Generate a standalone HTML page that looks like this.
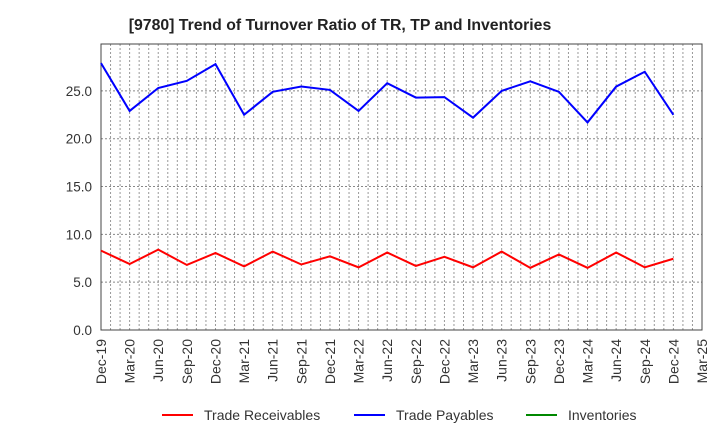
<!DOCTYPE html>
<html><head><meta charset="utf-8"><style>
body{margin:0;background:#fff;font-family:"Liberation Sans",Arial,sans-serif}
</style></head><body>
<svg id="chart" width="720" height="440" xmlns="http://www.w3.org/2000/svg">
<text x="340" y="30" text-anchor="middle" font-size="15.8" font-weight="bold" fill="#222">[9780]  Trend of Turnover Ratio of TR, TP and Inventories</text>
<g id="grid"></g><g id="axes"></g><g id="series"></g>
<g>
<line x1="162" y1="415" x2="193" y2="415" stroke="#f00" stroke-width="2"/>
<text x="204" y="420" font-size="14" fill="#333">Trade Receivables</text>
<line x1="354" y1="415" x2="385" y2="415" stroke="#00f" stroke-width="2"/>
<text x="396" y="420" font-size="14" fill="#333">Trade Payables</text>
<line x1="526" y1="415" x2="557" y2="415" stroke="#080" stroke-width="2"/>
<text x="568" y="420" font-size="14" fill="#333">Inventories</text>
</g>
</svg>
<script>
const categories=["Dec-19","Mar-20","Jun-20","Sep-20","Dec-20","Mar-21","Jun-21","Sep-21","Dec-21","Mar-22","Jun-22","Sep-22","Dec-22","Mar-23","Jun-23","Sep-23","Dec-23","Mar-24","Jun-24","Sep-24","Dec-24","Mar-25"];
const tradeReceivables=[8.3,6.9,8.4,6.8,8.05,6.65,8.2,6.85,7.7,6.55,8.1,6.7,7.65,6.55,8.2,6.5,7.9,6.5,8.1,6.55,7.45];
const tradePayables=[27.9,22.9,25.3,26.05,27.8,22.5,24.9,25.45,25.1,22.9,25.8,24.3,24.35,22.2,25.0,26.0,24.9,21.7,25.45,27.0,22.5];
const inventories=[];
const yTicks=[0,5,10,15,20,25];
const yTickLabels=["0.0","5.0","10.0","15.0","20.0","25.0"];
const NS="http://www.w3.org/2000/svg";
const L=101,R=702,T=44,B=330,YMAX=29.9;
const x=i=>L+(R-L)*i/(categories.length-1);
const y=v=>B-(B-T)*v/YMAX;
function mk(t,a,p){const e=document.createElementNS(NS,t);for(const k in a)e.setAttribute(k,a[k]);p.appendChild(e);return e;}
const grid=document.getElementById('grid'),axes=document.getElementById('axes'),ser=document.getElementById('series');
const months=(categories.length-1)*3;
for(let m=1;m<months;m++){const xx=L+(R-L)*m/months;
const g=mk('line',{x1:xx,y1:T,x2:xx,y2:B,stroke:'#999','stroke-dasharray':'2,2','stroke-width':1},grid);

}
yTicks.forEach((v,i)=>{
if(v>0){const g=mk('line',{x1:L,y1:y(v),x2:R,y2:y(v),stroke:'#888','stroke-dasharray':'2,2','stroke-width':1},grid);

}
const t=mk('text',{x:L-9,y:y(v)+5,'text-anchor':'end','font-size':13.5,fill:'#333'},axes);t.textContent=yTickLabels[i];

});
const fr=mk('rect',{x:L,y:T,width:R-L,height:B-T,fill:'none',stroke:'#444','stroke-width':1},axes);


categories.forEach((c,i)=>{const t=mk('text',{x:0,y:0,'text-anchor':'end','font-size':14,fill:'#333',transform:`translate(${x(i)+5},339) rotate(-90)`},axes);t.textContent=c;

});
function line(d,col,name){if(!d.length)return;const p=mk('polyline',{points:d.map((v,i)=>x(i)+','+y(v)).join(' '),fill:'none',stroke:col,'stroke-width':2},ser);

}
line(tradePayables,'#00f','trade-payables-line');
line(tradeReceivables,'#f00','trade-receivables-line');
line(inventories,'#080','inventories-line');
</script>
</body></html>
